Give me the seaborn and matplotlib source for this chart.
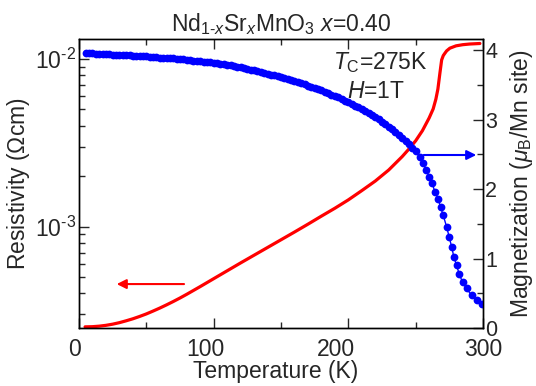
import matplotlib
matplotlib.use("Agg")
import matplotlib.pyplot as plt
from matplotlib.ticker import MultipleLocator, LogLocator, FuncFormatter
from matplotlib.transforms import ScaledTranslation
import numpy as np
import seaborn as sns

# resistivity (Ohm cm) vs temperature (K), red curve, left log axis
temp_res = [4.5, 10, 15, 20, 25, 30, 35, 40, 45, 50, 55, 60, 65, 70, 75, 80, 90,
            100, 110, 120, 130, 140, 150, 160, 170, 180, 190, 200, 210, 220, 230,
            240, 245, 250, 255, 260, 263, 265, 266.5, 268, 269.3, 270.5, 271.7,
            273, 275.4, 280, 285, 290, 297.7]
resistivity = [2.529e-4, 2.535e-4, 2.553e-4, 2.582e-4, 2.624e-4, 2.679e-4,
               2.748e-4, 2.825e-4, 2.917e-4, 3.020e-4, 3.141e-4, 3.273e-4,
               3.420e-4, 3.581e-4, 3.758e-4, 3.954e-4, 4.395e-4, 4.898e-4,
               5.458e-4, 6.081e-4, 6.761e-4, 7.516e-4, 8.356e-4, 9.290e-4,
               1.035e-3, 1.156e-3, 1.288e-3, 1.445e-3, 1.641e-3, 1.871e-3,
               2.178e-3, 2.618e-3, 2.904e-3, 3.251e-3, 3.733e-3, 4.446e-3,
               5.035e-3, 5.754e-3, 6.607e-3, 8.222e-3, 9.863e-3, 1.047e-2,
               1.081e-2, 1.117e-2, 1.159e-2, 1.197e-2, 1.216e-2, 1.227e-2,
               1.236e-2]

# magnetization (muB / Mn site) vs temperature (K), blue dots, right axis
temp_mag = [5, 7.5, 10, 12.5, 15, 17.5, 20, 22.5, 25, 27.5, 30, 32.5, 35, 37.5,
            40, 42.5, 45, 47.5, 50, 52.5, 55, 57.5, 60, 62.5, 65, 67.5, 70, 72.5,
            75, 77.5, 80, 82.5, 85, 87.5, 90, 92.5, 95, 97.5, 100, 102.5, 105,
            107.5, 110, 112.5, 115, 117.5, 120, 122.5, 125, 127.5, 130, 132.5,
            135, 137.5, 140, 142.5, 145, 147.5, 150, 152.5, 155, 157.5, 160,
            162.5, 165, 167.5, 170, 172.5, 175, 177.5, 180, 182.5, 185, 187.5,
            190, 192.5, 195, 197.5, 200, 202.5, 205, 207.5, 210, 212.5, 215,
            217.5, 220, 222.5, 225, 227.5, 230, 232.5, 235, 237.5, 240, 242.5,
            245, 247.5, 250, 253.2, 255.6, 257.6, 260, 262.3, 264.3, 266.7,
            268.5, 270.5, 273, 274.9, 276.7, 278.4, 280.4, 282.3, 284.8, 287.8,
            291.5, 295.2, 298.9]
magnetization = [3.965, 3.96, 3.955, 3.951, 3.948, 3.944, 3.94, 3.938, 3.935,
                 3.933, 3.93, 3.928, 3.925, 3.923, 3.92, 3.918, 3.915, 3.913,
                 3.91, 3.905, 3.90, 3.895, 3.89, 3.887, 3.885, 3.882, 3.88,
                 3.875, 3.87, 3.865, 3.86, 3.855, 3.85, 3.845, 3.84, 3.835, 3.83,
                 3.825, 3.82, 3.813, 3.805, 3.798, 3.79, 3.78, 3.77, 3.76, 3.75,
                 3.74, 3.73, 3.72, 3.71, 3.698, 3.685, 3.673, 3.66, 3.648, 3.635,
                 3.623, 3.61, 3.595, 3.58, 3.565, 3.55, 3.535, 3.52, 3.505, 3.49,
                 3.473, 3.455, 3.438, 3.42, 3.40, 3.38, 3.36, 3.34, 3.318, 3.295,
                 3.273, 3.25, 3.225, 3.20, 3.175, 3.15, 3.123, 3.095, 3.068, 3.04,
                 3.005, 2.97, 2.935, 2.90, 2.86, 2.82, 2.775, 2.73, 2.69, 2.65,
                 2.595, 2.545, 2.46, 2.37, 2.28, 2.18, 2.08, 1.96, 1.86, 1.74,
                 1.62, 1.455, 1.31, 1.17, 1.02, 0.90, 0.78, 0.66, 0.57, 0.47,
                 0.40, 0.35]

# horizontal nudge (pixels) of the temperature tick labels, as in the original
xlabel_shift = [-3, -5, -8.5, -12]

sns.set_style("ticks")
plt.rcParams["font.family"] = ["Liberation Sans", "DejaVu Sans"]
plt.rcParams["mathtext.fontset"] = "custom"
plt.rcParams["mathtext.rm"] = "Liberation Sans"
plt.rcParams["mathtext.it"] = "Liberation Sans:italic"
plt.rcParams["mathtext.default"] = "regular"

FS = 16.5
HY = "\u2010"  # plain hyphen, mathtext would turn "-" into a wide minus


def pow10(v, pos):
    e = int(round(np.log10(v)))
    return "10$^{" + (HY if e < 0 else "") + str(abs(e)) + "}$"


fig = plt.figure(figsize=(5.36, 3.86), dpi=100)
ax = fig.add_axes([0.1474, 0.1503, 0.7537, 0.7487])
ax2 = ax.twinx()

sns.lineplot(x=temp_res, y=resistivity, color="red", linewidth=2.3, ax=ax)
ax.set_yscale("log")
ax.set_ylim(2.49e-4, 1.315e-2)
ax.set_xlim(0, 300)

sns.lineplot(x=temp_mag, y=magnetization, color="blue", linewidth=1.0,
             marker="o", markersize=5.6, markeredgewidth=0, ax=ax2)
ax2.set_ylim(0, 4.16)
ax2.set_xlim(0, 300)

ax.xaxis.set_major_locator(MultipleLocator(100))
ax.xaxis.set_minor_locator(MultipleLocator(50))
ax.yaxis.set_major_locator(LogLocator(base=10))
ax.yaxis.set_major_formatter(FuncFormatter(pow10))
ax.yaxis.set_minor_locator(LogLocator(base=10, subs=range(2, 10)))
ax.yaxis.set_minor_formatter(plt.NullFormatter())
ax2.yaxis.set_major_locator(MultipleLocator(1))
ax2.yaxis.set_minor_locator(MultipleLocator(0.5))

ax.tick_params(axis="x", which="both", direction="in", top=True, labelsize=FS, pad=7.5)
ax.tick_params(axis="x", which="major", length=7, width=1)
ax.tick_params(axis="x", which="minor", length=4, width=1)
ax.tick_params(axis="y", which="both", direction="in", right=False, labelsize=16.5, pad=2)
ax.tick_params(axis="y", which="major", length=7, width=1)
ax.tick_params(axis="y", which="minor", length=4, width=1)
ax2.tick_params(axis="y", which="both", direction="in", labelsize=15.5, pad=1.5)
ax2.tick_params(axis="y", which="major", length=7, width=1)
ax2.tick_params(axis="y", which="minor", length=4, width=1)

for a in (ax, ax2):
    for s in a.spines.values():
        s.set_linewidth(1.0)
        s.set_color("black")

ax.set_xlabel("Temperature (K)", fontsize=FS, labelpad=-1)
ax.xaxis.label.set_x(0.486)
ax.set_ylabel("Resistivity ($\\Omega$cm)", fontsize=FS, labelpad=2)
ax2.set_ylabel("Magnetization ($\\mathit{\\mu}_{\\rm B}$/Mn site)", fontsize=FS, labelpad=8)
ax.set_title("Nd$_{1" + HY + "\\mathit{x}}$Sr$_{\\mathit{x}}$MnO$_3$ $\\mathit{x}$=0.40",
             fontsize=16.5, pad=6)

ax2.text(0.745, 0.917, "$\\mathit{T}_{\\rm C}$=275K", transform=ax.transAxes,
         fontsize=FS, ha="center", va="center")
ax2.text(0.735, 0.817, "$\\mathit{H}$=1T", transform=ax.transAxes,
         fontsize=FS, ha="center", va="center")

ax.annotate("", xy=(28, 4.55e-4), xytext=(78, 4.55e-4),
            arrowprops=dict(arrowstyle="-|>", color="red", lw=1.5,
                            mutation_scale=14, shrinkA=0, shrinkB=0))
ax2.annotate("", xy=(295, 2.49), xytext=(256, 2.49),
             arrowprops=dict(arrowstyle="-|>", color="blue", lw=1.5,
                             mutation_scale=14, shrinkA=0, shrinkB=0))

fig.canvas.draw()
for lab, dx in zip(ax.xaxis.get_majorticklabels(), xlabel_shift):
    lab.set_transform(lab.get_transform() + ScaledTranslation(dx / 100, 0, fig.dpi_scale_trans))

fig.savefig("out.png", dpi=100)
plt.close(fig)
